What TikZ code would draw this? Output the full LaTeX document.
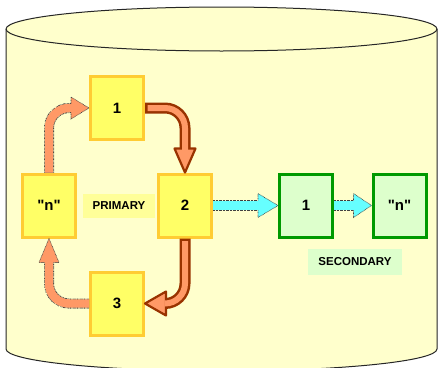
\documentclass[tikz,border=0pt]{standalone}
\usepackage{fontspec}
\setmainfont{Liberation Sans}[Ligatures=TeXOff]
\definecolor{tankfill}{HTML}{FFFFCC}
\definecolor{boxfill}{HTML}{FFFF66}
\definecolor{boxline}{HTML}{FFCC33}
\definecolor{primfill}{HTML}{FFFF99}
\definecolor{secfill}{HTML}{DDFFCC}
\definecolor{secline}{HTML}{009900}
\definecolor{salmon}{HTML}{FF9966}
\definecolor{arrowred}{HTML}{993300}
\definecolor{aqua}{HTML}{66FFFF}

\begin{document}
\begin{tikzpicture}
	[x=1pt, y=-1pt,
	every node/.style={align=center, inner sep=0pt, font=\bfseries},
	prim/.style={draw=boxline, fill=boxfill, line width=3pt, minimum width=53pt, minimum height=63pt, font=\bfseries\fontsize{15}{18}\selectfont},
	sec/.style={prim, draw=secline, fill=secfill},
	tag/.style={minimum height=24pt, font=\bfseries\fontsize{11.5}{14}\selectfont},
	tank/.style={fill=tankfill, draw=black!85, line width=1pt},
	redshaft/.style={draw=arrowred, line width=11pt, rounded corners=20pt},
	redcore/.style={draw=salmon, line width=6pt, rounded corners=20pt},
	redtip/.style={fill=salmon, draw=arrowred, line width=2.2pt, line join=round},
	dotshaft/.style={draw=black!75, line width=10pt, dash pattern=on 0.7pt off 0.7pt, rounded corners=20pt},
	dotcore/.style={line width=8.4pt, rounded corners=20pt},
	dottip/.style={draw=black!75, line width=0.6pt, dash pattern=on 0.7pt off 0.7pt}]
	\fill[white] (0,0) rectangle (438,367);
	\useasboundingbox (0,0) rectangle (438,367);
	% the tank
	\draw[tank] (6,29) -- (6,349) arc[start angle=180, end angle=0, x radius=215.5, y radius=22]
		-- (437,29) arc[start angle=0, end angle=-180, x radius=215.5, y radius=22] -- cycle;
	\draw[tank, fill=none] (6,29) arc[start angle=180, end angle=0, x radius=215.5, y radius=22];
	% primary ring
	\node[prim] (one) at (117,108) {1};
	\node[prim] (nn) at (49,205.5) {"n"};
	\node[prim] (two) at (185,205.5) {2};
	\node[prim] (three) at (117,303.5) {3};
	\node[tag, fill=primfill, minimum width=72pt] (primary) at (119,205.5) {PRIMARY};
	% secondary chain
	\node[sec] (sone) at (306,205.5) {1};
	\node[sec] (sn) at (399.5,205.5) {"n"};
	\node[tag, fill=secfill, minimum width=94pt, minimum height=26pt] (secondary) at (355,262) {SECONDARY};
	% 1 -> 2
	\draw[redshaft, shorten >=22pt] (one.east) -| (two.north);
	\draw[redtip, shift={(two.north)}, rotate=-90] (0,0) -- (-24,10.5) -- (-24,-10.5) -- cycle;
	\draw[redcore, shorten >=22.5pt, shorten <=2.5pt] (one.east) -| (two.north);
	% 2 -> 3
	\draw[redshaft, shorten >=19pt] (two.south) |- (three.east);
	\draw[redtip, shift={(three.east)}, rotate=180] (0,0) -- (-21,12) -- (-21,-12) -- cycle;
	\draw[redcore, shorten >=19.5pt, shorten <=2.5pt] (two.south) |- (three.east);
	% 3 -> "n"
	\draw[dotshaft, shorten >=22pt] (three.west) -| (nn.south);
	\draw[dottip, fill=salmon, shift={(nn.south)}, rotate=90] (0,0) -- (-24,10) -- (-24,-10) -- cycle;
	\draw[dotcore, draw=salmon, shorten >=23pt] (three.west) -| (nn.south);
	% "n" -> 1
	\draw[dotshaft, shorten >=16pt] (nn.north) |- (one.west);
	\draw[dottip, fill=salmon, shift={(one.west)}] (0,0) -- (-18,11) -- (-18,-11) -- cycle;
	\draw[dotcore, draw=salmon, shorten >=17pt] (nn.north) |- (one.west);
	% 2 -> secondary
	\draw[dotshaft, line width=11pt, shorten >=18pt] (two.east) -- (sone.west);
	\draw[dottip, fill=aqua, shift={(sone.west)}] (0,0) -- (-20,12) -- (-20,-12) -- cycle;
	\draw[dotcore, line width=9.4pt, draw=aqua, shorten >=19pt] (two.east) -- (sone.west);
	\draw[dotshaft, line width=11pt, shorten >=16pt] (sone.east) -- (sn.west);
	\draw[dottip, fill=aqua, shift={(sn.west)}] (0,0) -- (-18,12) -- (-18,-12) -- cycle;
	\draw[dotcore, line width=9.4pt, draw=aqua, shorten >=17pt] (sone.east) -- (sn.west);
\end{tikzpicture}
\end{document}
